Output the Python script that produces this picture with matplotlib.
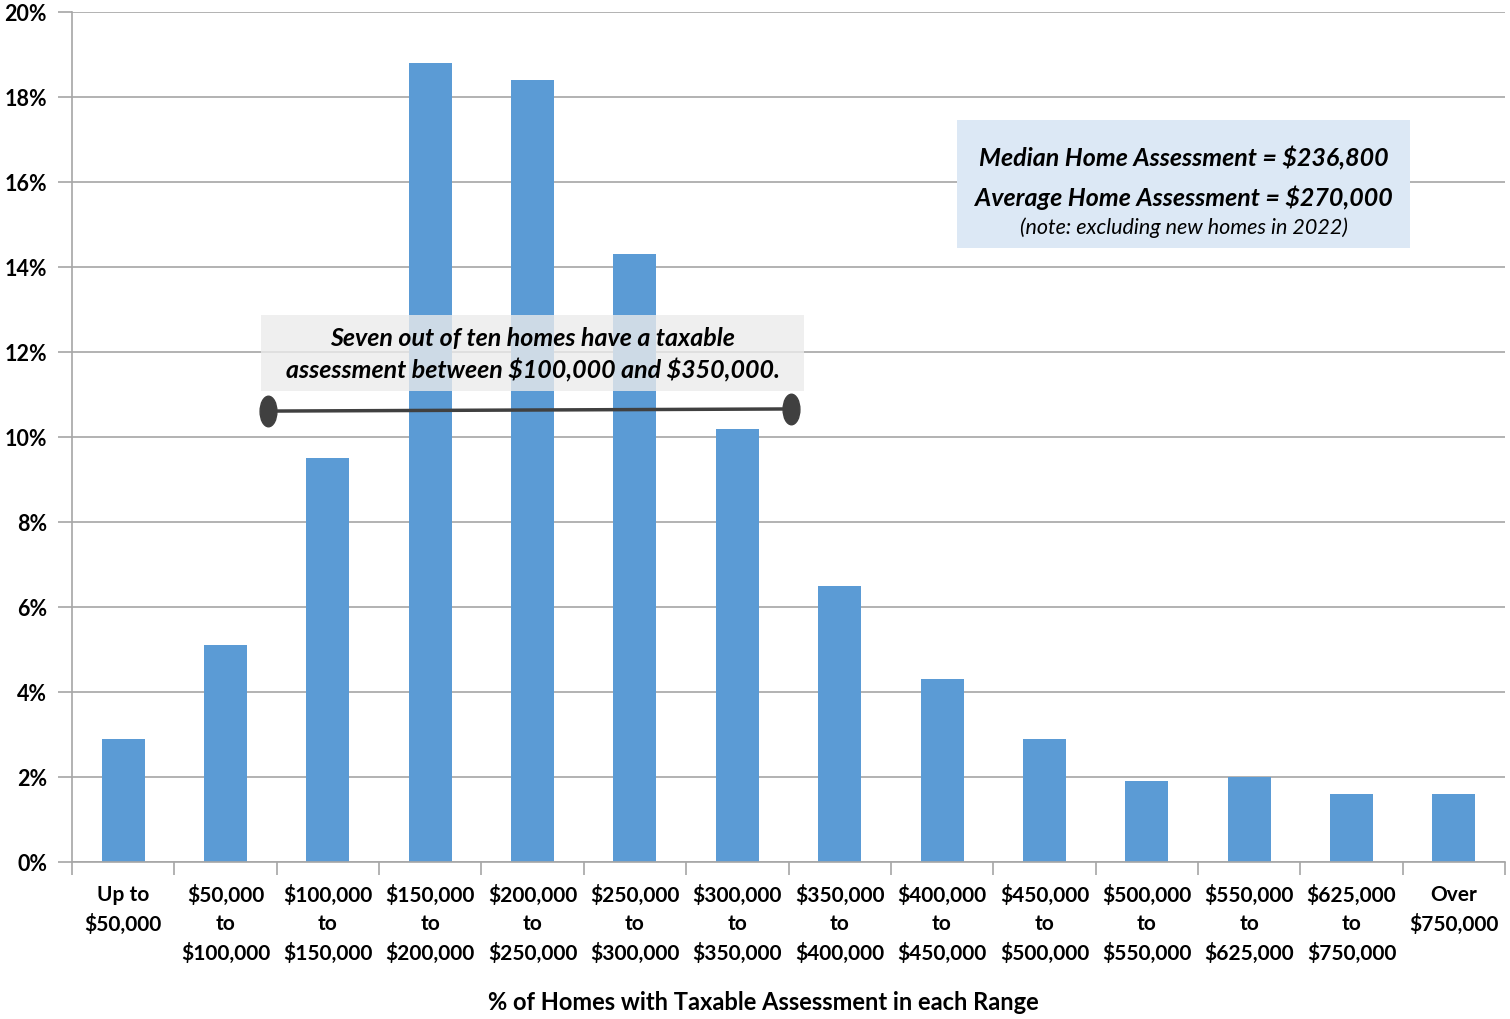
import matplotlib.pyplot as plt
import numpy as np
from matplotlib.patches import Rectangle
from matplotlib.path import Path

plt.rcParams['font.family'] = ['Lato', 'DejaVu Sans']

# assessment ranges and share of homes in each (%)
ranges = ["Up to\n$50,000", "$50,000\nto\n$100,000", "$100,000\nto\n$150,000",
          "$150,000\nto\n$200,000", "$200,000\nto\n$250,000", "$250,000\nto\n$300,000",
          "$300,000\nto\n$350,000", "$350,000\nto\n$400,000", "$400,000\nto\n$450,000",
          "$450,000\nto\n$500,000", "$500,000\nto\n$550,000", "$550,000\nto\n$625,000",
          "$625,000\nto\n$750,000", "Over\n$750,000"]
share = [2.9, 5.1, 9.5, 18.8, 18.4, 14.3, 10.2, 6.5, 4.3, 2.9, 1.9, 2.0, 1.6, 1.6]
yticks = [0, 2, 4, 6, 8, 10, 12, 14, 16, 18, 20]

# bracket marking the $100,000 - $350,000 span
bracket_x = [1.41, 6.52]
bracket_y = [10.61, 10.66]

fig = plt.figure(figsize=(15.1, 10.2), dpi=100)
ax = fig.add_axes([72 / 1510, 1 - 863 / 1020, 1433 / 1510, 850 / 1020])

x = np.arange(len(ranges))
ax.bar(x, share, width=0.42, color='#5b9bd5', zorder=2)

ax.set_xlim(-0.5, len(ranges) - 0.5)
ax.set_ylim(0, 20)
ax.set_yticks(yticks)
ax.set_yticklabels([f'{t}%' for t in yticks], fontsize=15.5, fontweight='bold')
ax.yaxis.grid(True, color='#a6a6a6', linewidth=1.2, zorder=0)
ax.set_axisbelow(True)

ax.set_xticks(x)
ax.set_xticklabels(ranges, fontsize=15, fontweight='bold', linespacing=1.5)
ax.set_xticks(np.arange(-0.5, len(ranges)), minor=True)
ax.tick_params(axis='x', which='major', length=0, pad=16)
ax.tick_params(axis='x', which='minor', length=9, color='#a6a6a6', width=1.2)
ax.tick_params(axis='y', length=10, color='#a6a6a6', width=1.2, pad=8)

for side in ['top', 'right']:
    ax.spines[side].set_visible(False)
for side in ['left', 'bottom']:
    ax.spines[side].set_color('#a6a6a6')
    ax.spines[side].set_linewidth(1.2)

fig.text(763 / 1510, 1 - 1003 / 1020, '% of Homes with Taxable Assessment in each Range',
         ha='center', va='center', fontsize=17, fontweight='bold')

# annotation over the middle ranges
ax.add_patch(Rectangle((1.35, 11.08), 5.3, 1.79, facecolor='#ebebeb', alpha=0.8,
                       edgecolor='none', zorder=3))
ax.text(4.0, 11.96, 'Seven out of ten homes have a taxable\nassessment between \\$100,000 and \\$350,000.',
        ha='center', va='center', fontsize=18, fontweight='bold', style='italic',
        linespacing=1.45, zorder=4)
circle = Path.unit_circle()
oval = Path(circle.vertices * [0.55, 1.0], circle.codes)
ax.plot(bracket_x, bracket_y, color='#404040', linewidth=2.5, zorder=4)
ax.plot(bracket_x, bracket_y, linestyle='none', marker=oval, markersize=22,
        markerfacecolor='#404040', markeredgecolor='#404040', zorder=4)

# summary box
ax.add_patch(Rectangle((8.15, 14.45), 4.42, 3.01, facecolor='#dce8f5',
                       edgecolor='none', zorder=3))
ax.text(10.36, 16.57, 'Median Home Assessment = \\$236,800', ha='center', va='center',
        fontsize=18, fontweight='bold', style='italic', zorder=4)
ax.text(10.36, 15.66, 'Average Home Assessment = \\$270,000', ha='center', va='center',
        fontsize=18, fontweight='bold', style='italic', zorder=4)
ax.text(10.36, 14.94, '(note: excluding new homes in 2022)', ha='center', va='center',
        fontsize=15.5, style='italic', zorder=4)

fig.savefig('out.png', dpi=100)
